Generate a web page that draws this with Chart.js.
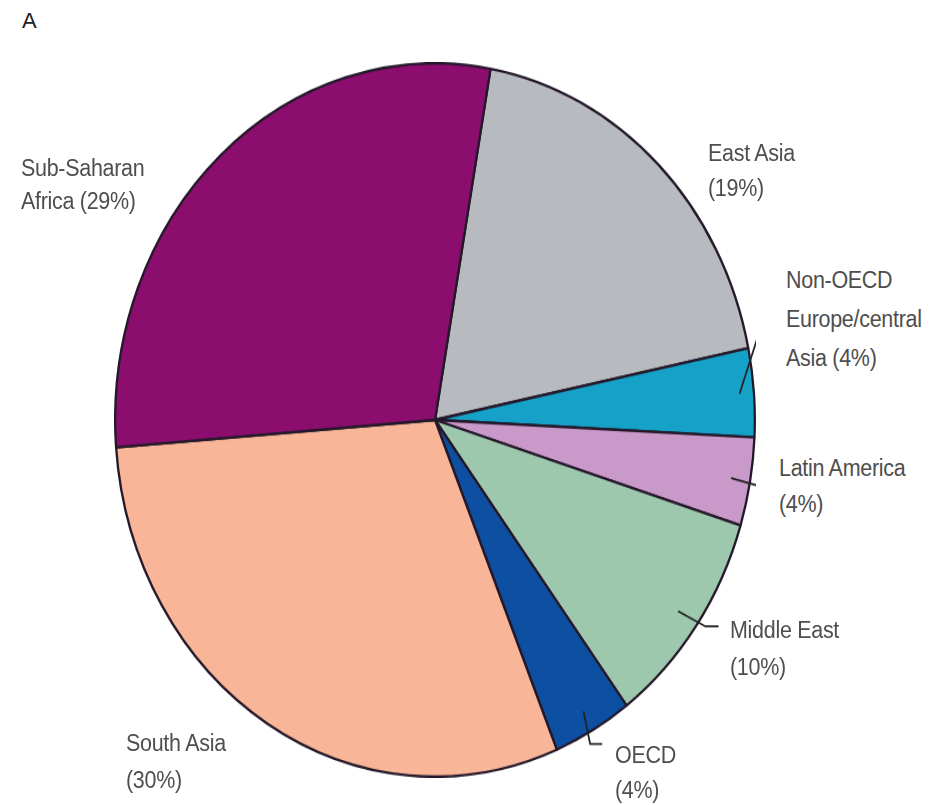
<!DOCTYPE html>
<html>
<head>
<meta charset="utf-8">
<script src="https://cdn.jsdelivr.net/npm/chart.js@4.4.1/dist/chart.umd.min.js"></script>
<style>
  html, body { margin: 0; padding: 0; background: #fff; }
  #page { position: relative; width: 938px; height: 805px; overflow: hidden; }
  #pieWrap { position: absolute; left: 114px; top: 62px; width: 642px; height: 642px;
             transform: scaleY(1.115); transform-origin: 0 0; }
  .lbl { position: absolute; font-family: "Liberation Sans", Arial, sans-serif;
         font-size: 21.5px; line-height: 26px; color: #4e4e4e; white-space: nowrap;
         letter-spacing: -0.3px; transform: scaleY(1.15); transform-origin: 0 50%; }
  #panel { position: absolute; left: 22px; top: 8px; font-family: "Liberation Sans", Arial, sans-serif;
           font-size: 22px; color: #222; }
</style>
</head>
<body>
<div id="page">
  <div id="panel">A</div>
  <div id="pieWrap"><canvas id="pieChart" width="642" height="642"></canvas></div>
</div>
<script>
  // regions, clockwise from the top
  let regions = ['East Asia', 'Non-OECD Europe/central Asia', 'Latin America', 'Middle East', 'OECD', 'South Asia', 'Sub-Saharan Africa'];
  let shares = [19, 4, 4, 10, 4, 30, 29];
  let sliceColors = ['#b7babf', '#16a2c8', '#c99ac9', '#9dc8ae', '#0d50a2', '#f8b597', '#8b0e6f'];

  // label text lines and where they sit on the page
  let labelLines = [
    ['East Asia', '(19%)'],
    ['Non-OECD', 'Europe/central', 'Asia (4%)'],
    ['Latin America', '(4%)'],
    ['Middle East', '(10%)'],
    ['OECD', '(4%)'],
    ['South Asia', '(30%)'],
    ['Sub-Saharan', 'Africa (29%)']
  ];
  let labelPos = [
    { x: 708, y: 140, gap: 35 },
    { x: 786, y: 267, gap: 39 },
    { x: 779, y: 455, gap: 36 },
    { x: 730, y: 617, gap: 37 },
    { x: 615, y: 742, gap: 35 },
    { x: 126, y: 730, gap: 37 },
    { x: 21, y: 155, gap: 33 }
  ];

  // leader lines: slice index, start radius factor, elbow angle offset (deg), elbow radius factor, horizontal tail
  let leaders = [
    { i: 1, r0: 0.955, da: -11, r1: 1.065, tail: 12 },
    { i: 2, r0: 0.94, da: 0.5, r1: 1.07, tail: 0 },
    { i: 3, r0: 0.93, da: -0.8, r1: 1.025, tail: 13 },
    { i: 4, r0: 0.94, da: 1.5, r1: 1.03, tail: 12 }
  ];

  let page = document.getElementById('page');
  labelLines.forEach((lines, k) => {
    lines.forEach((t, j) => {
      let d = document.createElement('div');
      d.className = 'lbl';
      d.textContent = t;
      d.style.left = labelPos[k].x + 'px';
      d.style.top = (labelPos[k].y + j * labelPos[k].gap) + 'px';
      page.appendChild(d);
    });
  });

  let leaderPlugin = {
    id: 'leaders',
    afterDatasetsDraw(chart) {
      let c = chart.ctx;
      let arcs = chart.getDatasetMeta(0).data;
      c.save();
      c.strokeStyle = '#222';
      c.lineWidth = 1.8;
      leaders.forEach(l => {
        let a = arcs[l.i];
        let mid = (a.startAngle + a.endAngle) / 2;
        let ang1 = mid + l.da * Math.PI / 180;
        let x0 = a.x + Math.cos(mid) * a.outerRadius * l.r0;
        let y0 = a.y + Math.sin(mid) * a.outerRadius * l.r0;
        let x1 = a.x + Math.cos(ang1) * a.outerRadius * l.r1;
        let y1 = a.y + Math.sin(ang1) * a.outerRadius * l.r1;
        c.beginPath();
        c.moveTo(x0, y0);
        c.lineTo(x1, y1);
        if (l.tail) c.lineTo(x1 + l.tail, y1);
        c.stroke();
      });
      c.restore();
    }
  };

  new Chart(document.getElementById('pieChart').getContext('2d'), {
    type: 'pie',
    data: {
      labels: regions,
      datasets: [{
        data: shares,
        backgroundColor: sliceColors,
        borderColor: '#24182a',
        borderWidth: 2.3
      }]
    },
    options: {
      responsive: false,
      devicePixelRatio: 1,
      animation: false,
      rotation: 10,
      layout: { padding: 0 },
      plugins: { legend: { display: false }, tooltip: { enabled: false } }
    },
    plugins: [leaderPlugin]
  });
</script>
</body>
</html>
